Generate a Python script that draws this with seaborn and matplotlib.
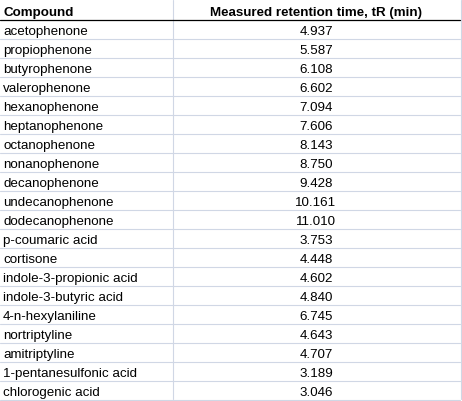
import matplotlib
matplotlib.use("Agg")
import matplotlib.pyplot as plt
import seaborn as sns

# ── Table data ────────────────────────────────────────────────
header = ["Compound", "Measured retention time, tR (min)"]
compounds = [
    "acetophenone", "propiophenone", "butyrophenone", "valerophenone",
    "hexanophenone", "heptanophenone", "octanophenone", "nonanophenone",
    "decanophenone", "undecanophenone", "dodecanophenone", "p-coumaric acid",
    "cortisone", "indole-3-propionic acid", "indole-3-butyric acid",
    "4-n-hexylaniline", "nortriptyline", "amitriptyline",
    "1-pentanesulfonic acid", "chlorogenic acid",
]
retention = [
    4.937, 5.587, 6.108, 6.602, 7.094, 7.606, 8.143, 8.750, 9.428, 10.161,
    11.010, 3.753, 4.448, 4.602, 4.840, 6.745, 4.643, 4.707, 3.189, 3.046,
]

# ── Layout (pixels) ───────────────────────────────────────────
W, H = 462, 401
row_h = 19
col_split = 172
right_edge = 460
grid_col = "#d0d7e5"
fs = 9.6

sns.set_theme(style="white")
plt.rcParams["font.family"] = ["Liberation Sans", "DejaVu Sans"]

fig = plt.figure(figsize=(W / 100, H / 100), dpi=100)
ax = fig.add_axes([0, 0, 1, 1])
ax.set_xlim(0, W)
ax.set_ylim(H, 0)
ax.axis("off")

n = len(compounds)
bottom = row_h * (n + 1)

# grid lines
for i in range(2, n + 1):
    ax.plot([0, right_edge], [i * row_h + 0.5] * 2, color=grid_col, lw=0.8)
ax.plot([0, right_edge], [bottom + 0.5] * 2, color=grid_col, lw=0.8)
ax.plot([col_split + 0.5] * 2, [0, bottom], color=grid_col, lw=0.8)
ax.plot([right_edge + 0.5] * 2, [0, bottom], color=grid_col, lw=0.8)
ax.plot([0, right_edge], [row_h + 0.5] * 2, color="black", lw=0.9)

# header
mid = (col_split + right_edge) / 2
ax.text(3, row_h - 3, header[0], fontsize=fs, fontweight="bold",
        ha="left", va="baseline", color="black")
ax.text(mid, row_h - 3, header[1], fontsize=fs, fontweight="bold",
        ha="center", va="baseline", color="black")

# body
for i, (name, val) in enumerate(zip(compounds, retention)):
    yb = (i + 2) * row_h - 3
    ax.text(3, yb, name, fontsize=fs, ha="left", va="baseline", color="black")
    ax.text(mid, yb, f"{val:.3f}", fontsize=fs, ha="center", va="baseline",
            color="black")

fig.savefig("out.png", dpi=100, facecolor="white")
